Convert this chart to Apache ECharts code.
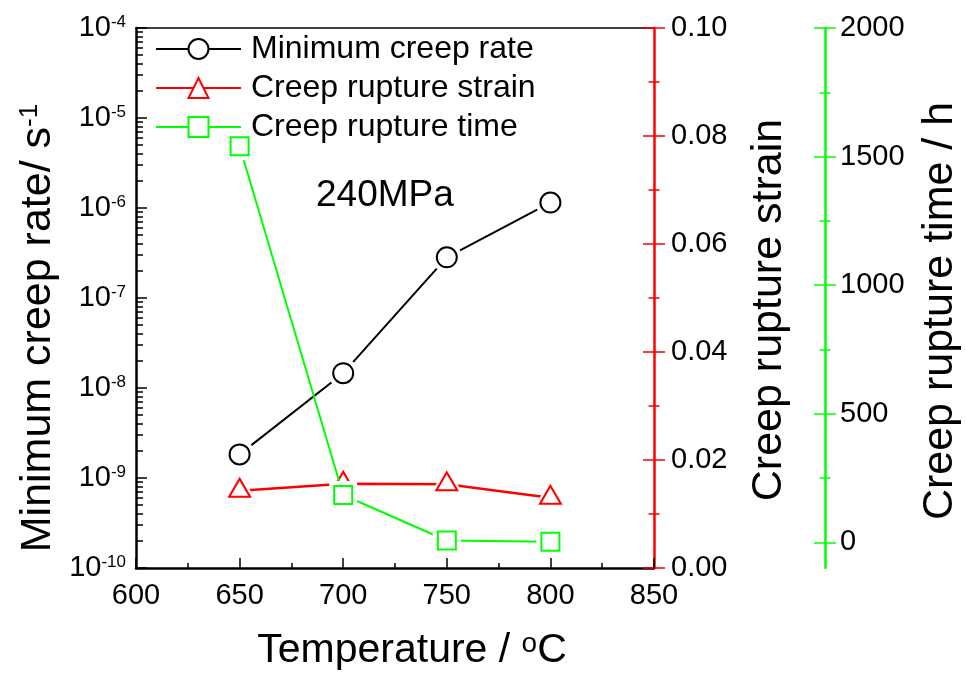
<!DOCTYPE html>
<html>
<head>
<meta charset="utf-8">
<script src="https://cdn.jsdelivr.net/npm/echarts@6/dist/echarts.min.js"></script>
<style>
  html, body { margin: 0; padding: 0; background: #fff; }
  #chart { width: 966px; height: 677px; }
</style>
</head>
<body>
<div id="chart"></div>
<script>
// Creep test results at 240 MPa
const temperatures = [650, 700, 750, 800];                 // °C
const minCreepRate = [1.83e-9, 1.46e-8, 2.83e-7, 1.15e-6];  // s^-1
const ruptureStrain = [0.0143, 0.0156, 0.0155, 0.0130];
const ruptureTime = [1540, 184, 7, 2];                      // h

// Axis ticks
const rateDecades = [-10, -9, -8, -7, -6, -5, -4];
const timeMajorTicks = [0, 500, 1000, 1500, 2000];
const timeMinorTicks = [250, 750, 1250, 1750];

const FONT = '"Liberation Sans", Arial, sans-serif';
const BLACK = '#000000';
const RED = '#ff0000';
const GREEN = '#00ff00';

const rateMajor = rateDecades.map(e => Math.pow(10, e));
const rateMinor = [];
rateDecades.slice(0, -1).forEach(e => {
  for (let k = 2; k <= 9; k++) rateMinor.push(k * Math.pow(10, e));
});

const pairs = ys => temperatures.map((t, i) => [t, ys[i]]);

const chart = echarts.init(document.getElementById('chart'), null, { renderer: 'canvas' });

// Plain axis overlay used only to draw extra tick marks
function tickOverlay(base, ticks, len, inside) {
  return Object.assign({}, base, {
    axisLine: { show: false },
    axisLabel: { show: false },
    splitLine: { show: false },
    axisTick: { show: true, inside: inside, length: len, customValues: ticks,
                lineStyle: { color: base.axisLine.lineStyle.color, width: 1.5 } },
    minorTick: { show: false }
  });
}

const strainAxis = {
  type: 'value', position: 'right', offset: 0, min: 0, max: 0.1, interval: 0.02,
  axisLine: { show: true, onZero: false, lineStyle: { color: RED, width: 2.5 } },
  axisTick: { show: true, inside: false, length: 11, lineStyle: { color: RED, width: 1.5 } },
  minorTick: { show: true, splitNumber: 2, length: 5.5, lineStyle: { color: RED, width: 1.5 } },
  axisLabel: { show: true, margin: 17, fontSize: 29, fontFamily: FONT, color: BLACK,
               formatter: v => v.toFixed(2) },
  splitLine: { show: false }
};
const strainInside = Object.assign({}, strainAxis, {
  axisLine: { show: false, lineStyle: { color: RED } },
  axisTick: { show: true, inside: true, length: 11, lineStyle: { color: RED, width: 1.5 } },
  minorTick: { show: true, splitNumber: 2, length: 5.5, lineStyle: { color: RED, width: 1.5 } },
  axisLabel: { show: false }
});

const timeAxis = {
  type: 'value', position: 'right', offset: 171, min: -100, max: 2000,
  axisLine: { show: true, onZero: false, lineStyle: { color: GREEN, width: 2.5 } },
  axisTick: { show: true, inside: false, length: 11, customValues: timeMajorTicks,
              lineStyle: { color: GREEN, width: 1.5 } },
  axisLabel: { show: true, margin: 15, fontSize: 29, fontFamily: FONT, color: BLACK,
               customValues: timeMajorTicks, formatter: v => String(v) },
  splitLine: { show: false }
};

const rateAxis = {
  type: 'log', logBase: 10, position: 'left', min: 1e-10, max: 1e-4,
  axisLine: { show: true, onZero: false, lineStyle: { color: BLACK, width: 2.5 } },
  axisTick: { show: true, inside: true, length: 11, customValues: rateMajor,
              lineStyle: { color: BLACK, width: 1.5 } },
  axisLabel: {
    show: true, margin: 10, customValues: rateMajor, fontFamily: FONT, color: BLACK,
    formatter: v => '{b|10}{s|' + Math.round(Math.log10(v)) + '}',
    rich: {
      b: { fontSize: 29, fontFamily: FONT, color: BLACK, lineHeight: 29, verticalAlign: 'bottom', padding: [6, 0, 0, 0] },
      s: { fontSize: 17, fontFamily: FONT, color: BLACK, lineHeight: 17, verticalAlign: 'top' }
    }
  },
  splitLine: { show: false }
};

const axisCommonX = {
  type: 'value', min: 600, max: 850, interval: 50, splitLine: { show: false }
};

// Each data series: connecting line, white halo behind the marker, then the hollow marker
function seriesTriplet(name, yIdx, data, color, lineWidth, symbol, size, offset, haloSize, haloOffset, zBase) {
  return [
    {
      name: name, type: 'line', xAxisIndex: 0, yAxisIndex: yIdx, data: data,
      symbol: symbol, symbolSize: size, symbolOffset: offset,
      lineStyle: { color: color, width: lineWidth },
      itemStyle: { color: color, borderWidth: 1.2 },
      emphasis: { disabled: true }, silent: true, z: zBase
    },
    {
      name: name + ' halo', type: 'line', xAxisIndex: 0, yAxisIndex: yIdx, data: data,
      symbol: symbol.replace('empty', '').toLowerCase(), symbolSize: haloSize, symbolOffset: haloOffset,
      lineStyle: { width: 0, opacity: 0 },
      itemStyle: { color: '#ffffff', borderWidth: 0 },
      emphasis: { disabled: true }, silent: true, z: zBase + 1
    },
    {
      name: name + ' marker', type: 'line', xAxisIndex: 0, yAxisIndex: yIdx, data: data,
      symbol: symbol, symbolSize: size, symbolOffset: offset,
      lineStyle: { width: 0, opacity: 0 },
      itemStyle: { color: color, borderWidth: 1.2 },
      emphasis: { disabled: true }, silent: true, z: zBase + 2
    }
  ];
}

const names = ['Minimum creep rate', 'Creep rupture strain', 'Creep rupture time'];

const option = {
  animation: false,
  backgroundColor: '#ffffff',
  grid: { left: 136, right: 312, top: 28, bottom: 109, containLabel: false },
  legend: {
    data: names, orient: 'vertical', left: 155, top: 33, padding: 0,
    itemWidth: 85, itemHeight: 25, itemGap: 7,
    textStyle: { fontSize: 32, fontFamily: FONT, color: BLACK, padding: [0, 0, 0, 5], lineHeight: 30 },
    selectedMode: false
  },
  xAxis: [
    Object.assign({}, axisCommonX, {
      position: 'bottom',
      axisLine: { show: true, onZero: false, lineStyle: { color: BLACK, width: 2.5 } },
      axisTick: { show: true, inside: true, length: 10, lineStyle: { color: BLACK, width: 1.5 } },
      minorTick: { show: true, splitNumber: 2, length: 5, lineStyle: { color: BLACK, width: 1.5 } },
      axisLabel: { show: true, margin: 13, fontSize: 29, fontFamily: FONT, color: BLACK }
    }),
    Object.assign({}, axisCommonX, {
      position: 'top',
      axisLine: { show: true, onZero: false, lineStyle: { color: BLACK, width: 1.5 } },
      axisTick: { show: false }, axisLabel: { show: false }
    })
  ],
  yAxis: [
    rateAxis,
    tickOverlay(rateAxis, rateMinor, 7, true),
    strainAxis,
    strainInside,
    timeAxis,
    tickOverlay(timeAxis, timeMajorTicks, 11, true),
    tickOverlay(timeAxis, timeMinorTicks, 5.5, false),
    tickOverlay(timeAxis, timeMinorTicks, 5.5, true)
  ],
  series: [].concat(
    seriesTriplet(names[0], 0, pairs(minCreepRate), BLACK, 2, 'emptyCircle', 20, [0, 0], 30, [0, 0], 2),
    seriesTriplet(names[1], 2, pairs(ruptureStrain), RED, 2.5, 'emptyTriangle', [21, 18], [0, -3], [32, 28], [0, -4.7], 5),
    seriesTriplet(names[2], 4, pairs(ruptureTime), GREEN, 2, 'emptyRect', 18, [0, 0], 28, [0, 0], 8)
  ),
  graphic: [
    {
      type: 'text', x: 412, y: 651, silent: true,
      style: {
        text: '{a|Temperature / }{s|o}{a|C}',
        align: 'center', verticalAlign: 'middle', fill: BLACK,
        rich: {
          a: { fontSize: 41, fontFamily: FONT, fill: BLACK, lineHeight: 41, verticalAlign: 'bottom', padding: [6, 0, 0, 0] },
          s: { fontSize: 28, fontFamily: FONT, fill: BLACK, lineHeight: 28, verticalAlign: 'top' }
        }
      }
    },
    {
      type: 'text', x: 38, y: 328, rotation: Math.PI / 2, silent: true,
      style: {
        text: '{a|Minimum creep rate/ s}{s|-1}',
        align: 'center', verticalAlign: 'middle', fill: BLACK,
        rich: {
          a: { fontSize: 43, fontFamily: FONT, fill: BLACK, lineHeight: 43, verticalAlign: 'bottom', padding: [8, 0, 0, 0] },
          s: { fontSize: 26, fontFamily: FONT, fill: BLACK, lineHeight: 26, verticalAlign: 'top' }
        }
      }
    },
    {
      type: 'text', x: 769, y: 310, rotation: Math.PI / 2, silent: true,
      style: { text: 'Creep rupture strain', align: 'center', verticalAlign: 'middle',
               fontSize: 43, fontFamily: FONT, fill: BLACK }
    },
    {
      type: 'text', x: 940, y: 311, rotation: Math.PI / 2, silent: true,
      style: { text: 'Creep rupture time / h', align: 'center', verticalAlign: 'middle',
               fontSize: 43, fontFamily: FONT, fill: BLACK }
    },
    {
      type: 'text', x: 316, y: 196, silent: true,
      style: { text: '240MPa', align: 'left', verticalAlign: 'middle',
               fontSize: 37, fontFamily: FONT, fill: BLACK }
    }
  ]
};

chart.setOption(option);
</script>
</body>
</html>
